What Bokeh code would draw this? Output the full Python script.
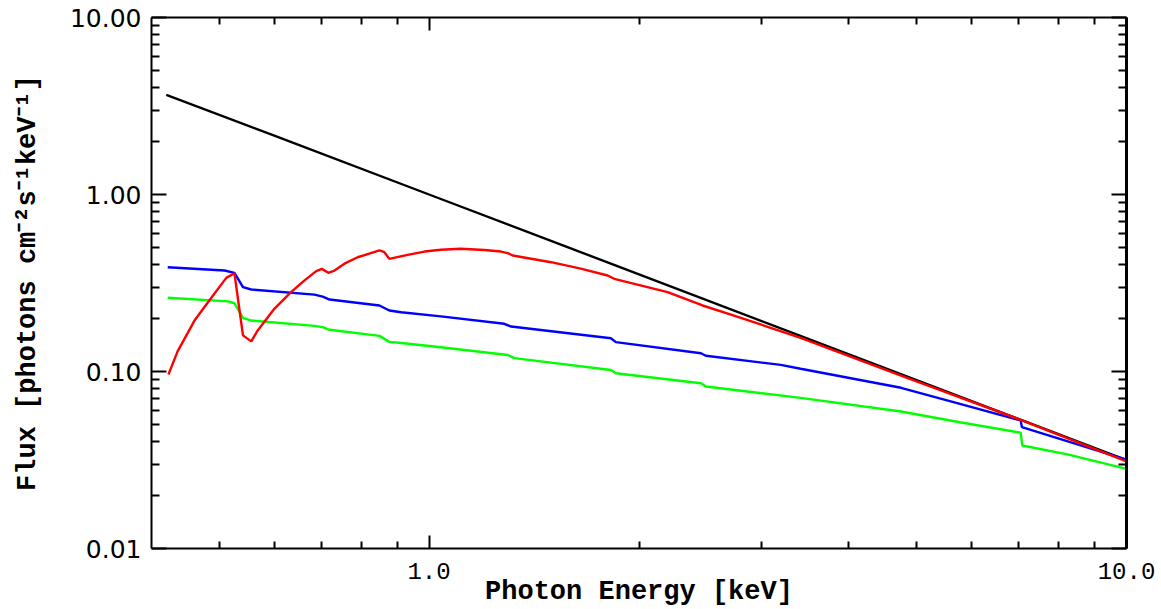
from bokeh.plotting import figure
from bokeh.models import LogAxis, FixedTicker, PrintfTickFormatter, Range1d
from bokeh.embed import file_html
from bokeh.resources import INLINE

# ---- data ----
E_pl = [0.42, 0.6, 1.0, 2.0, 4.0, 7.0, 10.0]
F_pl = [3.66, 2.15, 1.0, 0.354, 0.125, 0.054, 0.0316]

E_red = [0.423, 0.436, 0.461, 0.482, 0.512, 0.526, 0.541, 0.556, 0.568, 0.600,
         0.634, 0.663, 0.689, 0.702, 0.717, 0.732, 0.760, 0.790, 0.849, 0.863,
         0.877, 0.932, 0.985, 1.040, 1.11, 1.20, 1.268, 1.297, 1.318, 1.496,
         1.65, 1.803, 1.843, 2.198, 2.467, 2.737, 3.41, 4.75, 7.05, 10.0]
F_red = [0.0962, 0.130, 0.194, 0.246, 0.338, 0.359, 0.160, 0.148, 0.1705, 0.226,
         0.281, 0.327, 0.369, 0.380, 0.361, 0.372, 0.411, 0.442, 0.483, 0.472,
         0.433, 0.456, 0.476, 0.487, 0.494, 0.486, 0.476, 0.466, 0.452, 0.4145,
         0.381, 0.3485, 0.334, 0.2806, 0.236, 0.207, 0.155, 0.0949, 0.0533, 0.0311]

E_blue = [0.422, 0.509, 0.526, 0.541, 0.556, 0.685, 0.704, 0.720, 0.849, 0.877,
          0.912, 1.040, 1.282, 1.311, 1.823, 1.853, 2.454, 2.494, 3.194, 3.41,
          4.75, 5.77, 7.05, 7.08, 10.0]
F_blue = [0.388, 0.372, 0.361, 0.2995, 0.2905, 0.272, 0.265, 0.255, 0.236, 0.221,
          0.216, 0.205, 0.186, 0.1795, 0.154, 0.1465, 0.1268, 0.1227, 0.109, 0.1036,
          0.0809, 0.0657, 0.0529, 0.0485, 0.0318]

E_green = [0.422, 0.515, 0.526, 0.541, 0.556, 0.685, 0.704, 0.720, 0.849, 0.877,
           0.912, 1.040, 1.297, 1.325, 1.823, 1.853, 2.454, 2.494, 3.41, 4.75,
           5.77, 7.05, 7.09, 8.23, 10.0]
F_green = [0.261, 0.249, 0.243, 0.201, 0.194, 0.181, 0.178, 0.172, 0.159, 0.147,
           0.145, 0.137, 0.124, 0.119, 0.102, 0.0978, 0.0859, 0.0823, 0.0710, 0.0594,
           0.0517, 0.0451, 0.0382, 0.034, 0.0282]

x_major = [1.0, 10.0]
x_minor = [0.5, 0.6, 0.7, 0.8, 0.9, 2, 3, 4, 5, 6, 7, 8, 9]
y_major = [0.01, 0.1, 1.0, 10.0]
y_minor = [k * m for m in (0.01, 0.1, 1.0) for k in range(2, 10)]

x_title = "Photon Energy [keV]"
y_title = "Flux [photons cm\u207b\u00b2s\u207b\u00b9keV\u207b\u00b9]"

# ---- figure ----
p = figure(width=1161, height=609, x_axis_type="log", y_axis_type="log",
           x_range=Range1d(0.4, 10.0), y_range=Range1d(0.01, 10.0),
           output_backend="svg", toolbar_location=None,
           min_border_left=151, min_border_right=35, min_border_top=17,
           min_border_bottom=61)
p.grid.visible = False
p.outline_line_color = None
p.background_fill_color = "white"
p.border_fill_color = "white"

p.line(E_pl, F_pl, line_color="black", line_width=2.4)
p.line(E_blue, F_blue, line_color="#0000ff", line_width=2.4)
p.line(E_green, F_green, line_color="#00ff00", line_width=2.4)
p.line(E_red, F_red, line_color="#ff0000", line_width=2.4)

xt = FixedTicker(ticks=x_major, minor_ticks=x_minor)
yt = FixedTicker(ticks=y_major, minor_ticks=y_minor)


def style(ax, xdir, show_labels):
    ax.ticker = xt if xdir else yt
    ax.axis_line_width = 2
    ax.axis_line_color = "black"
    ax.major_tick_line_width = 2
    ax.minor_tick_line_width = 2
    ax.major_tick_out = 0
    ax.minor_tick_out = 0
    ax.major_tick_in = 13 if xdir else 15
    ax.minor_tick_in = 7 if xdir else 8
    if not show_labels:
        ax.major_label_text_font_size = "2px"
        ax.major_label_text_color = None
        ax.major_label_standoff = 0


bx = p.xaxis[0]
style(bx, True, True)
bx.formatter = PrintfTickFormatter(format="%.1f")
bx.major_label_text_font = "Liberation Mono"
bx.major_label_text_font_size = "24px"
bx.major_label_text_color = "black"
bx.major_label_standoff = 14
bx.axis_label = x_title
bx.axis_label_text_font = "Liberation Mono"
bx.axis_label_text_font_style = "bold"
bx.axis_label_text_font_size = "27px"
bx.axis_label_text_color = "black"
bx.axis_label_standoff = -5

ly = p.yaxis[0]
style(ly, False, True)
ly.formatter = PrintfTickFormatter(format="%.2f")
ly.major_label_text_font = "DejaVu Sans"
ly.major_label_text_font_size = "25px"
ly.major_label_text_color = "black"
ly.major_label_standoff = 10
ly.axis_label = y_title
ly.axis_label_text_font = "Liberation Mono"
ly.axis_label_text_font_style = "bold"
ly.axis_label_text_font_size = "27px"
ly.axis_label_text_color = "black"
ly.axis_label_standoff = 24

top = LogAxis()
style(top, True, False)
p.add_layout(top, "above")

right = LogAxis()
style(right, False, False)
right.axis_line_width = 3
p.add_layout(right, "right")

open("out.html", "w").write(file_html(p, INLINE))
